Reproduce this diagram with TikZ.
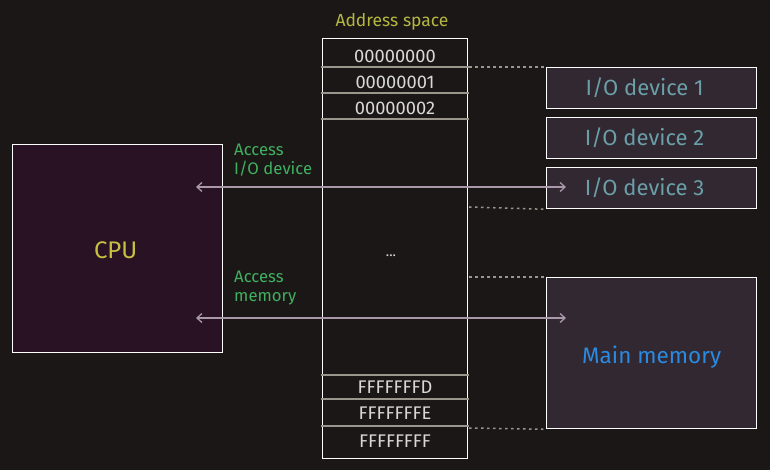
\documentclass[tikz,border=0pt]{standalone}
\usepackage{fontspec}
\setmainfont{Fira Sans}
\usetikzlibrary{arrows.meta}
\definecolor{bg}{HTML}{1A1716}
\definecolor{sep}{HTML}{9A968E}
\definecolor{iofill}{HTML}{322832}
\definecolor{iotext}{HTML}{6A9FA8}
\definecolor{memtext}{HTML}{2A8AE0}
\definecolor{cpufill}{HTML}{2A1225}
\definecolor{cputext}{HTML}{C8C040}
\definecolor{addrtext}{HTML}{B5B840}
\definecolor{arrowc}{HTML}{A898A8}
\definecolor{acctext}{HTML}{40B060}
\definecolor{hextext}{HTML}{D8D8D8}
\definecolor{dotc}{HTML}{9A968E}
\tikzset{
  box/.style={draw=white, line width=1.3pt, inner sep=0pt, anchor=north west},
  hexlbl/.style={text=hextext, font=\fontsize{18.3}{20}\selectfont},
  sepline/.style={draw=sep, line width=2pt},
  dotline/.style={draw=dotc, line width=1.5pt, dash pattern=on 2.5pt off 3.5pt},
  access/.style={<->, draw=arrowc, line width=1.3pt, >={Straight Barb[length=5pt,width=9pt]}},
  acclbl/.style={text=acctext, font=\fontsize{16.7}{19}\selectfont, align=left, anchor=north west, inner sep=0pt},
  devbox/.style={box, fill=iofill, minimum width=210pt, minimum height=41pt},
  devlbl/.style={text=iotext, font=\fontsize{22}{24}\selectfont},
}
\begin{document}
\begin{tikzpicture}[x=1pt,y=-1pt]
\fill[bg] (0,0) rectangle (770,470);
\useasboundingbox (0,0) rectangle (770,470);
% address space
\node[text=addrtext, font=\fontsize{17.5}{20}\selectfont] (title) at (392,22) {Address space};
\node[box, minimum width=145pt, minimum height=420pt] (as) at (322,38) {};
\coordinate (s1l) at (321,67); \coordinate (s1r) at (469,67);
\coordinate (s2l) at (321,93); \coordinate (s2r) at (469,93);
\coordinate (s3l) at (321,119); \coordinate (s3r) at (469,119);
\coordinate (s4l) at (321,375); \coordinate (s4r) at (469,375);
\coordinate (s5l) at (321,399); \coordinate (s5r) at (469,399);
\coordinate (s6l) at (321,426); \coordinate (s6r) at (469,426);
\foreach \i in {1,...,6} {\draw[sepline] (s\i l) -- (s\i r);}
\node[hexlbl] (a0) at (395,56) {00000000};
\node[hexlbl] (a1) at (395,82) {00000001};
\node[hexlbl] (a2) at (395,108) {00000002};
\node[text=hextext, font=\fontsize{14}{16}\selectfont] (dots) at (391,256) {...};
\node[hexlbl] (fd) at (395,387) {FFFFFFFD};
\node[hexlbl] (fe) at (395,413) {FFFFFFFE};
\node[hexlbl] (ff) at (395,441) {FFFFFFFF};
% devices
\node[devbox] (io1) at (546,67) {};
\node[devbox] (io2) at (546,117) {};
\node[devbox] (io3) at (546,167) {};
\node[devlbl] (t1) at ([xshift=-7pt]io1.center) {I/O device 1};
\node[devlbl] (t2) at ([xshift=-7pt]io2.center) {I/O device 2};
\node[devlbl] (t3) at ([xshift=-7pt]io3.center) {I/O device 3};
\node[box, fill=iofill, minimum width=210pt, minimum height=151pt] (mem) at (546,277) {};
\node[text=memtext, font=\fontsize{22.5}{26}\selectfont] (memlbl) at ([yshift=-4pt]mem.center) {Main memory};
% CPU
\node[box, fill=cpufill, minimum width=210pt, minimum height=208pt] (cpu) at (12,144) {};
\node[text=cputext, font=\fontsize{24}{28}\selectfont] (cpulbl) at ([xshift=-2pt,yshift=-2pt]cpu.center) {CPU};
% dotted mapping lines
\draw[dotline] (s1r) -- (io1.north west);
\draw[dotline] (469,207) -- (io3.south west);
\draw[dotline] (469,277) -- (mem.north west);
\draw[dotline] (469,428) -- (mem.south west);
% access arrows
\coordinate (c1) at (196,187); \coordinate (d1) at (566,187);
\coordinate (c2) at (196,318); \coordinate (d2) at (566,318);
\draw[access] (c1) -- (d1);
\draw[access] (c2) -- (d2);
\node[acclbl] (l1) at (234,144) {Access\\I/O device};
\node[acclbl] (l2) at (234,271) {Access\\memory};
\end{tikzpicture}
\end{document}
